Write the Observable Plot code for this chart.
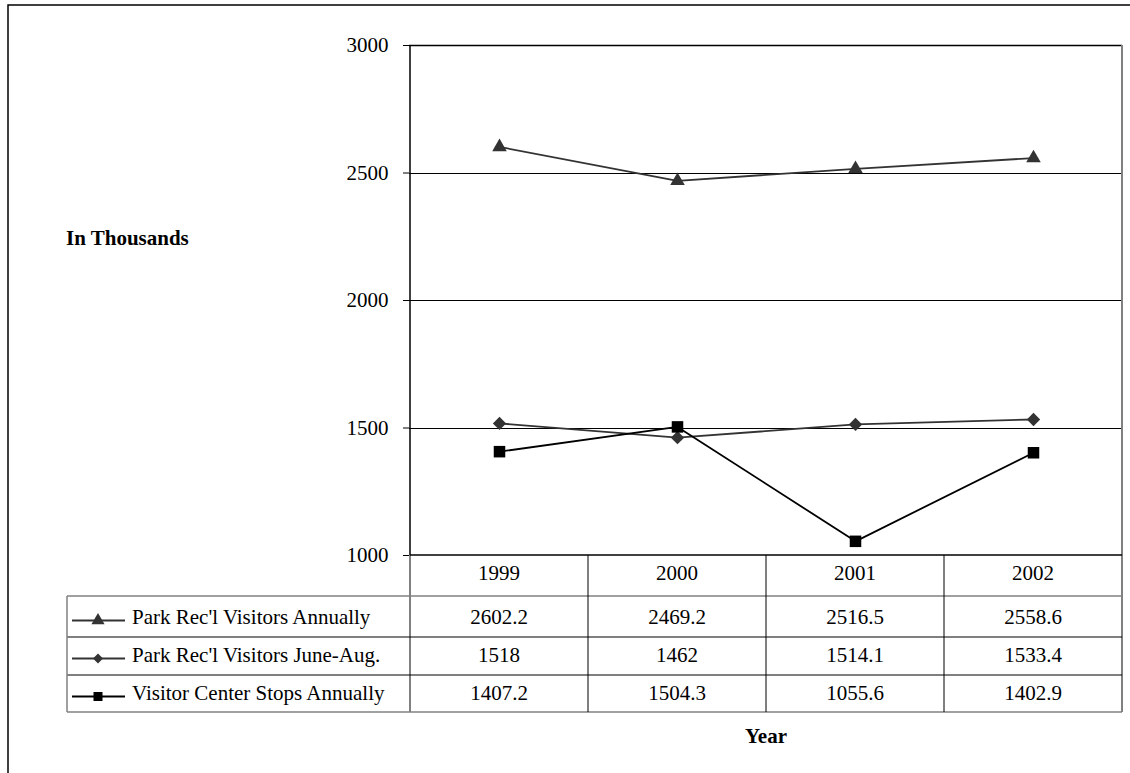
<!DOCTYPE html>
<html><head><meta charset="utf-8">
<script src="https://cdn.jsdelivr.net/npm/d3@7"></script>
<script src="https://cdn.jsdelivr.net/npm/@observablehq/plot@0.6"></script>
<style>
html,body{margin:0;padding:0;background:#fff;}
</style></head><body><div id="chart"></div>
<script>
// ---- data ----
const years = ["1999", "2000", "2001", "2002"];
const seriesNames = ["Park Rec'l Visitors Annually", "Park Rec'l Visitors June-Aug.", "Visitor Center Stops Annually"];
const parkAnnual = [2602.2, 2469.2, 2516.5, 2558.6];
const parkSummer = [1518, 1462, 1514.1, 1533.4];
const centerStops = [1407.2, 1504.3, 1055.6, 1402.9];
const yTicks = [1000, 1500, 2000, 2500, 3000];
const yTitle = "In Thousands";
const xTitle = "Year";

// ---- styling ----
const seriesValues = [parkAnnual, parkSummer, centerStops];
const symbols = ["triangle", "diamond2", "square"];
const symbolR = [5.4, 6, 6.5];
const lineColors = ["#333333", "#333333", "#000000"];
const markColors = ["#333333", "#333333", "#000000"];
const FONT = "'Liberation Serif', 'Times New Roman', Times, serif";
const FS = 21;

const data = seriesNames.flatMap((s, i) => years.map((y, j) => ({series: s, idx: i, year: y, value: seriesValues[i][j]})));

const W = 1130, H = 773;
const M = {left: 409, right: 8, top: 45, bottom: 218};

const marks = [
  Plot.ruleY(yTicks.filter(t => t > 1000 && t < 3000), {stroke: "#000", strokeWidth: 1, shapeRendering: "crispEdges"}),
  Plot.ruleY([3000], {stroke: "#000", strokeWidth: 1.5}),
  Plot.axisY({ticks: yTicks, tickSize: 6, tickPadding: 15, tickFormat: d => String(d), label: null, fontSize: FS, stroke: "#000"})
];
seriesNames.forEach((s, i) => {
  const d = data.filter(r => r.idx === i);
  marks.push(Plot.line(d, {x: "year", y: "value", stroke: lineColors[i], strokeWidth: 1.8}));
  marks.push(Plot.dot(d, {x: "year", y: "value", symbol: symbols[i], r: symbolR[i], fill: markColors[i], stroke: "none"}));
});

const chart = Plot.plot({
  width: W, height: H,
  marginLeft: M.left, marginRight: M.right, marginTop: M.top, marginBottom: M.bottom,
  style: {fontFamily: FONT, fontSize: FS + "px", color: "#000", background: "#fff", overflow: "visible"},
  x: {type: "point", domain: years, padding: 0.5, axis: null},
  y: {domain: [1000, 3000], axis: null},
  marks
});
document.getElementById("chart").appendChild(chart);

// ---- frame, data table and titles, positioned from Plot's own scales ----
const xs = chart.scale("x");
const ys = chart.scale("y");
const step = xs.step;
const svg = d3.select(chart);
const g = svg.append("g").attr("font-family", FONT).attr("font-size", FS).attr("fill", "#000").attr("text-anchor", "start");

const x0 = xs.apply(years[0]) - step / 2;
const x1 = xs.apply(years[years.length - 1]) + step / 2;
const yTop = ys.apply(3000), yBase = ys.apply(1000);
const rowH = [41, 41, 38, 37];
const rowY = [yBase];
rowH.forEach(h => rowY.push(rowY[rowY.length - 1] + h));
const legendLeft = 67;

// outer figure border
g.append("rect").attr("x", 8).attr("y", 5).attr("width", W).attr("height", H + 40)
  .attr("fill", "none").attr("stroke", "#000").attr("stroke-width", 1.5);

// plot area borders
g.append("line").attr("x1", x0).attr("x2", x0).attr("y1", yTop).attr("y2", yBase).attr("stroke", "#000").attr("stroke-width", 1.5);
g.append("line").attr("x1", x1).attr("x2", x1).attr("y1", yTop).attr("y2", rowY[4]).attr("stroke", "#808080").attr("stroke-width", 2);
g.append("line").attr("x1", x0).attr("x2", x0).attr("y1", yBase).attr("y2", rowY[4]).attr("stroke", "#808080").attr("stroke-width", 2);
// table horizontal lines
g.append("line").attr("x1", x0).attr("x2", x1).attr("y1", rowY[0]).attr("y2", rowY[0]).attr("stroke", "#000").attr("stroke-width", 1.5);
g.append("line").attr("x1", legendLeft).attr("x2", x1).attr("y1", rowY[1]).attr("y2", rowY[1]).attr("stroke", "#808080").attr("stroke-width", 1.5);
g.append("line").attr("x1", legendLeft).attr("x2", x1).attr("y1", rowY[2]).attr("y2", rowY[2]).attr("stroke", "#000").attr("stroke-width", 1);
g.append("line").attr("x1", legendLeft).attr("x2", x1).attr("y1", rowY[3]).attr("y2", rowY[3]).attr("stroke", "#000").attr("stroke-width", 1);
g.append("line").attr("x1", legendLeft).attr("x2", x1).attr("y1", rowY[4]).attr("y2", rowY[4]).attr("stroke", "#808080").attr("stroke-width", 1.5);
g.append("line").attr("x1", legendLeft).attr("x2", legendLeft).attr("y1", rowY[1]).attr("y2", rowY[4]).attr("stroke", "#808080").attr("stroke-width", 1.5);
// column dividers
years.slice(1).forEach(y => {
  const xx = xs.apply(y) - step / 2;
  g.append("line").attr("x1", xx).attr("x2", xx).attr("y1", rowY[0]).attr("y2", rowY[4]).attr("stroke", "#000").attr("stroke-width", 1);
});
// header years
years.forEach(y => {
  g.append("text").attr("x", xs.apply(y)).attr("y", rowY[0] + 25).attr("text-anchor", "middle").text(y);
});
// value rows + legend keys
const baseOff = [28, 25, 25];
seriesNames.forEach((s, i) => {
  const by = rowY[i + 1] + baseOff[i];
  years.forEach((y, j) => {
    g.append("text").attr("x", xs.apply(y)).attr("y", by).attr("text-anchor", "middle").text(String(seriesValues[i][j]));
  });
  const ly = by - 3.5;
  g.append("line").attr("x1", 72).attr("x2", 125).attr("y1", ly).attr("y2", ly).attr("stroke", lineColors[i]).attr("stroke-width", 2);
  let path;
  if (i === 0) path = d3.symbol(d3.symbolTriangle, 75)();
  else if (i === 1) path = d3.symbol(d3.symbolSquare, 50)();
  else path = d3.symbol(d3.symbolSquare, 81)();
  g.append("path").attr("d", path).attr("fill", markColors[i])
    .attr("transform", `translate(98,${ly})` + (i === 1 ? " rotate(45)" : ""));
  g.append("text").attr("x", 132).attr("y", by).attr("text-anchor", "start").text(s);
});

// axis titles
g.append("text").attr("x", 66).attr("y", 245).attr("text-anchor", "start").attr("font-weight", "bold").text(yTitle);
g.append("text").attr("x", (x0 + x1) / 2).attr("y", 743).attr("text-anchor", "middle").attr("font-weight", "bold").text(xTitle);
</script>
</body></html>
